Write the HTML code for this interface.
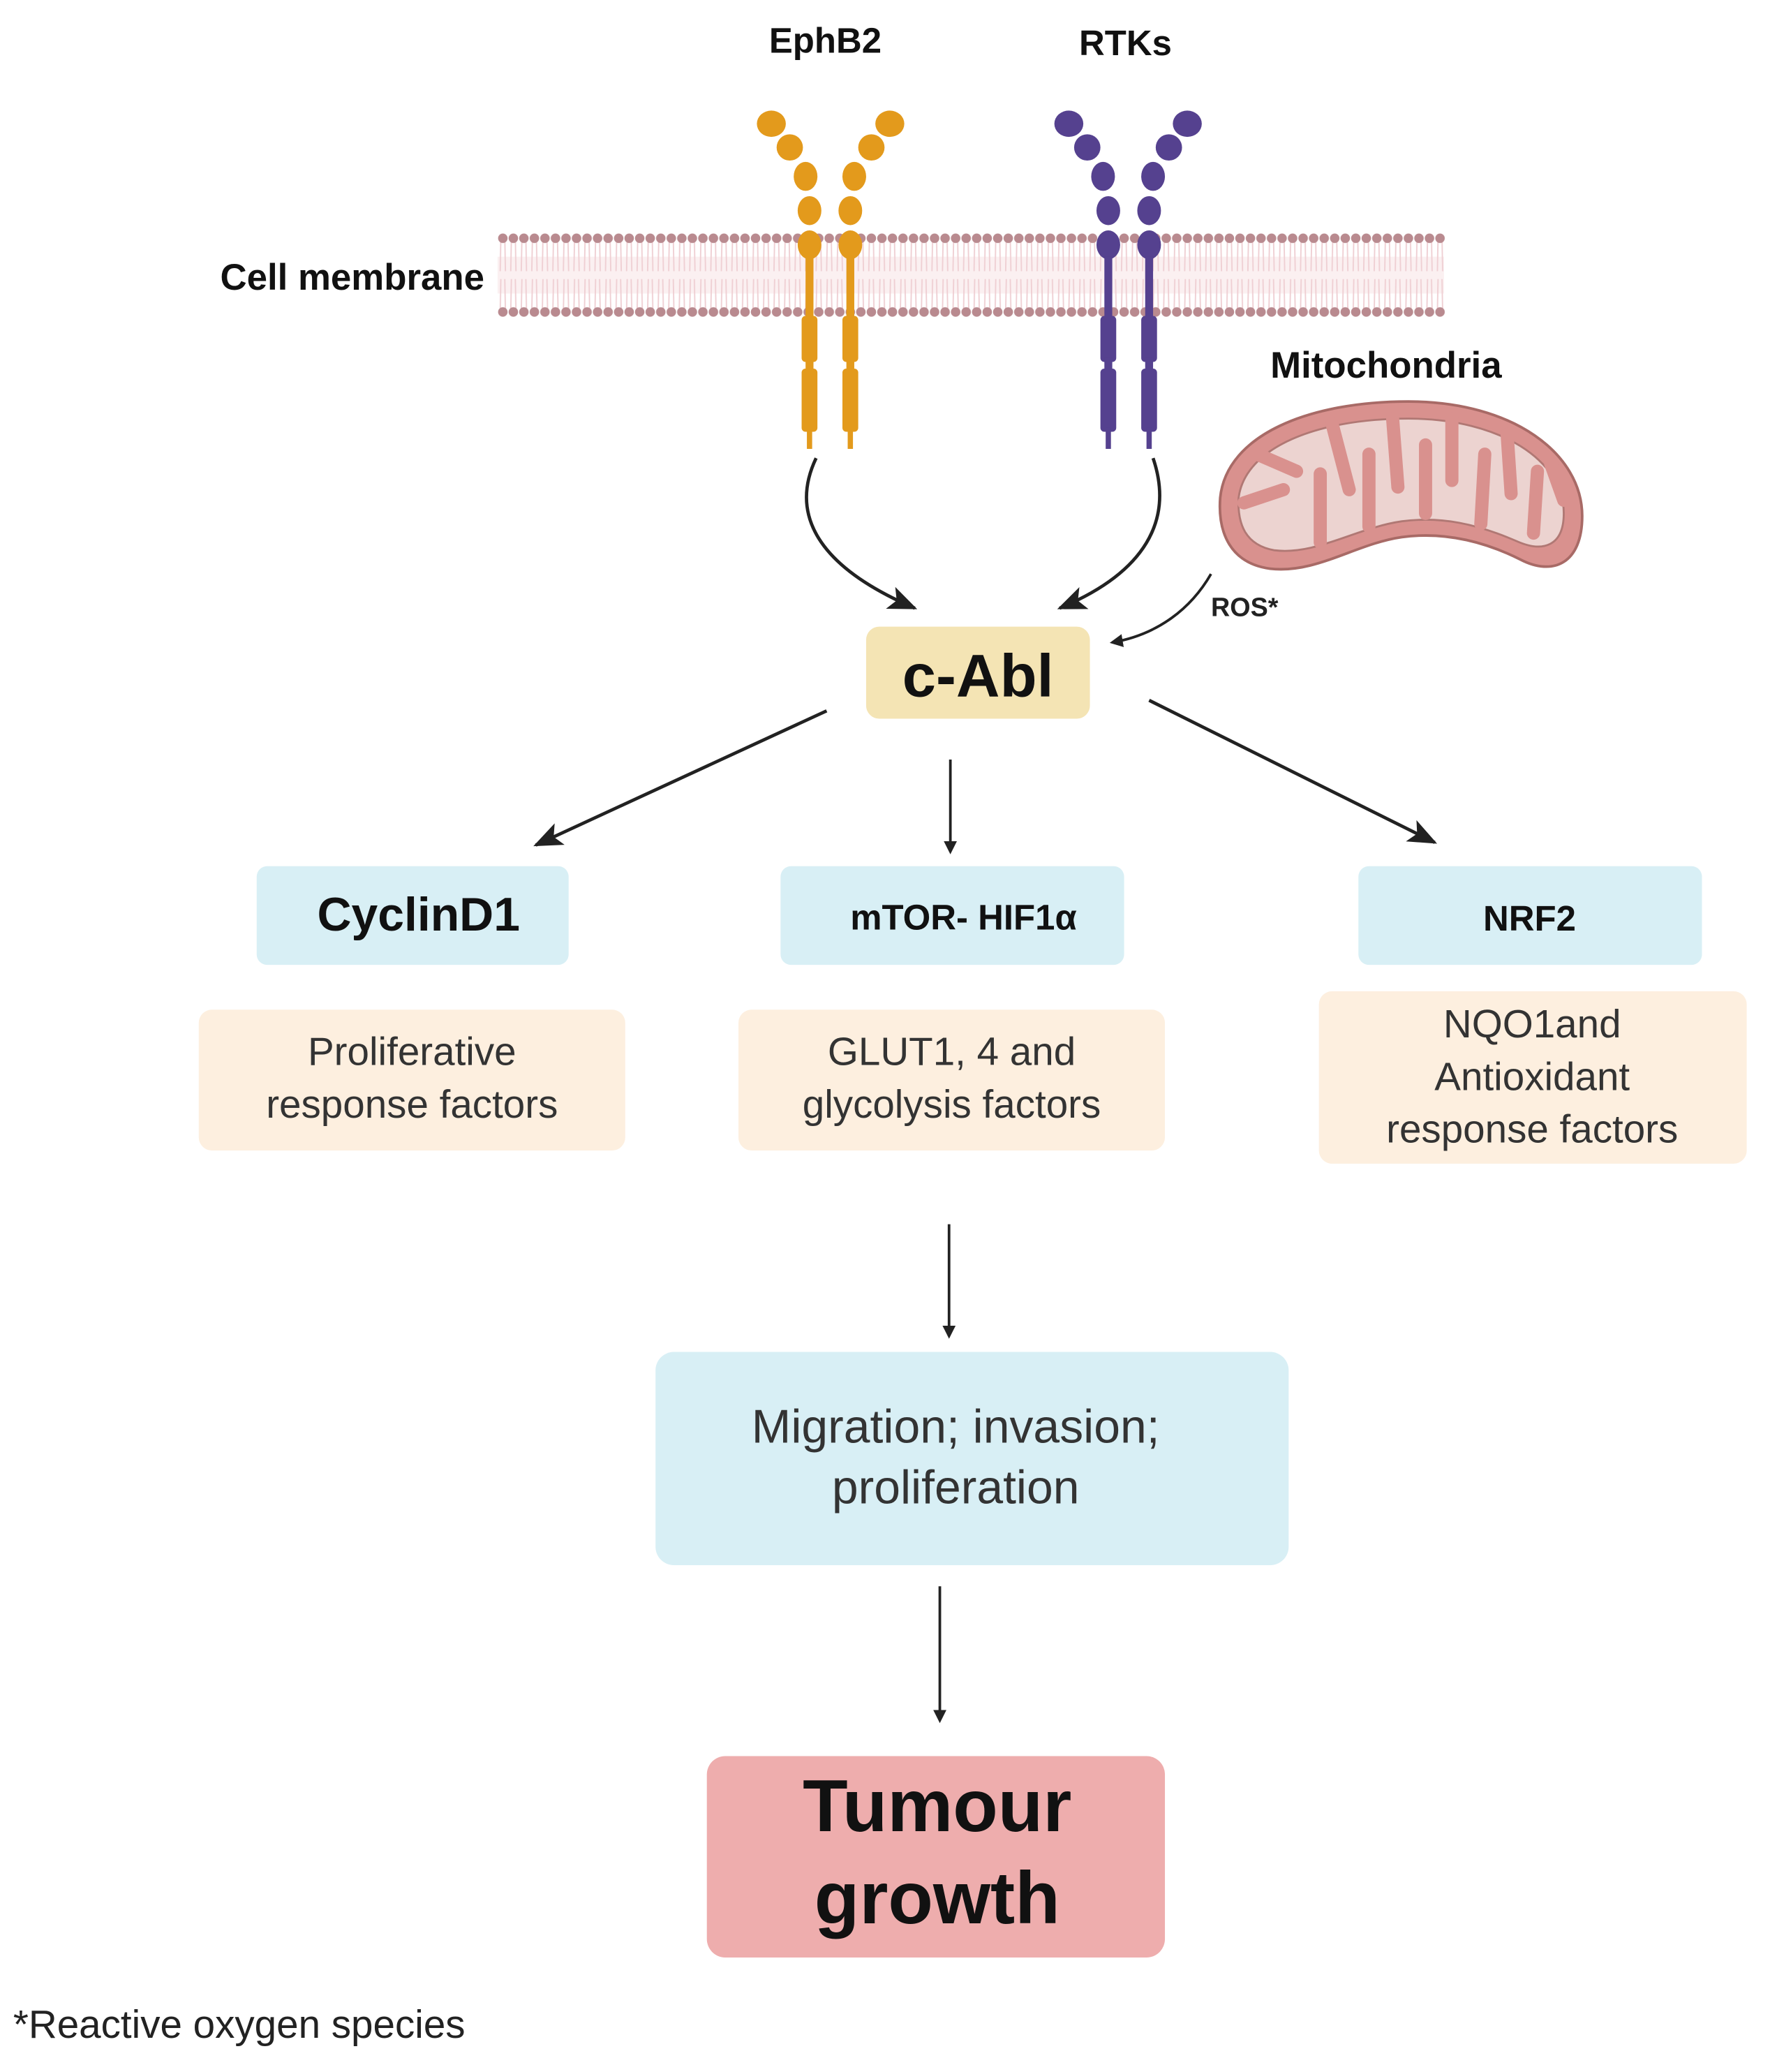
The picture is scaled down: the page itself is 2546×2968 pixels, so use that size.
<!DOCTYPE html>
<html><head><meta charset="utf-8"><style>
html,body{margin:0;padding:0;background:#fff;}
svg{display:block;}
text{font-family:"Liberation Sans",sans-serif;}
</style></head><body>
<svg width="2546" height="2968" viewBox="0 0 1350 1574" preserveAspectRatio="none" xmlns="http://www.w3.org/2000/svg">
<defs>
<marker id="ah" markerWidth="10" markerHeight="10" refX="8" refY="5" orient="auto" markerUnits="userSpaceOnUse" viewBox="0 0 10 10">
<path d="M0,0 L10,5 L0,10 z" fill="#222"/></marker>
<marker id="ahL" markerWidth="22" markerHeight="18" refX="20" refY="9" orient="auto" markerUnits="userSpaceOnUse" viewBox="0 0 22 18">
<path d="M0,0 L22,9 L0,18 L5,9 z" fill="#222"/></marker>
<pattern id="mem" x="378" y="176" width="8" height="66" patternUnits="userSpaceOnUse">
<path d="M2.5,5 L2,30 M5.5,5 L6,30 M2.5,36 L2,61 M5.5,36 L6,61" stroke="#efcfd3" stroke-width="1"/>
<circle cx="4" cy="5" r="3.6" fill="#b98a8f"/>
<circle cx="4" cy="61" r="3.6" fill="#b98a8f"/>
</pattern>
</defs>

<text x="627" y="40" font-size="27" font-weight="bold" text-anchor="middle" fill="#111">EphB2</text>
<text x="855" y="42" font-size="27" font-weight="bold" text-anchor="middle" fill="#111">RTKs</text>
<text x="368" y="220" font-size="28" font-weight="bold" text-anchor="end" fill="#111">Cell membrane</text>

<rect x="378" y="195" width="719" height="28" fill="#fbf0f1"/>
<rect x="378" y="176" width="720" height="66" fill="url(#mem)"/>

<g fill="#e39a1c">
<ellipse cx="586" cy="94" rx="11" ry="10"/><ellipse cx="600" cy="112" rx="10" ry="10"/>
<ellipse cx="612" cy="134" rx="9" ry="11"/><ellipse cx="615" cy="160" rx="9" ry="11"/><ellipse cx="615" cy="186" rx="9" ry="11"/>
<ellipse cx="676" cy="94" rx="11" ry="10"/><ellipse cx="662" cy="112" rx="10" ry="10"/>
<ellipse cx="649" cy="134" rx="9" ry="11"/><ellipse cx="646" cy="160" rx="9" ry="11"/><ellipse cx="646" cy="186" rx="9" ry="11"/>
<rect x="612" y="195" width="6" height="50"/><rect x="643" y="195" width="6" height="50"/>
<rect x="609" y="240" width="12" height="35" rx="3"/><rect x="640" y="240" width="12" height="35" rx="3"/>
<rect x="612" y="272" width="6" height="10"/><rect x="643" y="272" width="6" height="10"/>
<rect x="609" y="280" width="12" height="48" rx="3"/><rect x="640" y="280" width="12" height="48" rx="3"/>
<rect x="613" y="325" width="4" height="16"/><rect x="644" y="325" width="4" height="16"/>
</g>
<g fill="#55418f">
<ellipse cx="812" cy="94" rx="11" ry="10"/><ellipse cx="826" cy="112" rx="10" ry="10"/>
<ellipse cx="838" cy="134" rx="9" ry="11"/><ellipse cx="842" cy="160" rx="9" ry="11"/><ellipse cx="842" cy="186" rx="9" ry="11"/>
<ellipse cx="902" cy="94" rx="11" ry="10"/><ellipse cx="888" cy="112" rx="10" ry="10"/>
<ellipse cx="876" cy="134" rx="9" ry="11"/><ellipse cx="873" cy="160" rx="9" ry="11"/><ellipse cx="873" cy="186" rx="9" ry="11"/>
<rect x="839" y="195" width="6" height="50"/><rect x="870" y="195" width="6" height="50"/>
<rect x="836" y="240" width="12" height="35" rx="3"/><rect x="867" y="240" width="12" height="35" rx="3"/>
<rect x="839" y="272" width="6" height="10"/><rect x="870" y="272" width="6" height="10"/>
<rect x="836" y="280" width="12" height="48" rx="3"/><rect x="867" y="280" width="12" height="48" rx="3"/>
<rect x="840" y="325" width="4" height="16"/><rect x="871" y="325" width="4" height="16"/>
</g>

<path d="M620,348 C600,390 620,430 695,462" fill="none" stroke="#222" stroke-width="2.5" marker-end="url(#ahL)"/>
<path d="M876,348 C892,395 870,435 805,462" fill="none" stroke="#222" stroke-width="2.5" marker-end="url(#ahL)"/>

<text x="1053" y="287" font-size="28" font-weight="bold" text-anchor="middle" fill="#111">Mitochondria</text>
<path d="M1070,305 C1150,305 1202,345 1202,392 C1202,428 1180,438 1155,425 C1125,410 1095,404 1065,408 C1030,413 1000,436 965,432 C935,428 925,405 927,378 C932,330 995,305 1070,305 Z" fill="#d9918e" stroke="#a86a66" stroke-width="2"/>
<path d="M1070,318 C1140,318 1188,350 1188,390 C1188,415 1172,420 1152,411 C1122,398 1095,392 1065,396 C1030,401 1000,422 968,418 C946,414 940,398 941,378 C946,340 1000,318 1070,318 Z" fill="#ecd3d0" stroke="#b07874" stroke-width="1.5"/>
<g stroke="#d9918e" stroke-width="10" stroke-linecap="round" fill="none">
<path d="M945,382 L975,372"/><path d="M955,345 L985,358"/>
<path d="M1003,412 L1003,360"/><path d="M1012,322 L1025,372"/>
<path d="M1040,400 L1040,345"/><path d="M1058,318 L1062,370"/>
<path d="M1083,390 L1083,338"/><path d="M1103,318 L1103,365"/>
<path d="M1125,398 L1128,345"/><path d="M1145,330 L1148,375"/>
<path d="M1165,405 L1168,358"/><path d="M1178,352 L1188,380"/>
</g>
<path d="M920,436 C905,462 880,482 845,488" fill="none" stroke="#222" stroke-width="2" marker-end="url(#ah)"/>
<text x="920" y="468" font-size="20" font-weight="bold" fill="#222">ROS*</text>

<rect x="658" y="476" width="170" height="70" rx="10" fill="#f4e4b4"/>
<text x="743" y="529" font-size="46" font-weight="bold" text-anchor="middle" fill="#111">c-Abl</text>

<line x1="628" y1="540" x2="407" y2="642" stroke="#222" stroke-width="2.5" marker-end="url(#ahL)"/>
<line x1="722" y1="577" x2="722" y2="647" stroke="#222" stroke-width="2" marker-end="url(#ah)"/>
<line x1="873" y1="532" x2="1090" y2="640" stroke="#222" stroke-width="2.5" marker-end="url(#ahL)"/>

<rect x="195" y="658" width="237" height="75" rx="8" fill="#d8eff5"/>
<text x="318" y="707" font-size="36" font-weight="bold" text-anchor="middle" fill="#111">CyclinD1</text>
<rect x="593" y="658" width="261" height="75" rx="8" fill="#d8eff5"/>
<text x="732" y="706" font-size="27" font-weight="bold" text-anchor="middle" fill="#111">mTOR- HIF1α</text>
<rect x="1032" y="658" width="261" height="75" rx="8" fill="#d8eff5"/>
<text x="1162" y="707" font-size="27" font-weight="bold" text-anchor="middle" fill="#111">NRF2</text>

<rect x="151" y="767" width="324" height="107" rx="10" fill="#fdefdf"/>
<text font-size="30" text-anchor="middle" fill="#333"><tspan x="313" y="809">Proliferative</tspan><tspan x="313" y="849">response factors</tspan></text>
<rect x="561" y="767" width="324" height="107" rx="10" fill="#fdefdf"/>
<text font-size="30" text-anchor="middle" fill="#333"><tspan x="723" y="809">GLUT1, 4 and</tspan><tspan x="723" y="849">glycolysis factors</tspan></text>
<rect x="1002" y="753" width="325" height="131" rx="10" fill="#fdefdf"/>
<text font-size="30" text-anchor="middle" fill="#333"><tspan x="1164" y="788">NQO1and</tspan><tspan x="1164" y="828">Antioxidant</tspan><tspan x="1164" y="868">response factors</tspan></text>

<line x1="721" y1="930" x2="721" y2="1015" stroke="#222" stroke-width="2" marker-end="url(#ah)"/>

<rect x="498" y="1027" width="481" height="162" rx="14" fill="#d8eff5"/>
<text font-size="36" text-anchor="middle" fill="#333"><tspan x="726" y="1096">Migration; invasion;</tspan><tspan x="726" y="1142">proliferation</tspan></text>

<line x1="714" y1="1205" x2="714" y2="1307" stroke="#222" stroke-width="2" marker-end="url(#ah)"/>

<rect x="537" y="1334" width="348" height="153" rx="14" fill="#eeadad"/>
<text font-size="56" font-weight="bold" text-anchor="middle" fill="#111"><tspan x="712" y="1391">Tumour</tspan><tspan x="712" y="1461">growth</tspan></text>

<text x="10" y="1548" font-size="30" fill="#222">*Reactive oxygen species</text>
</svg>
</body></html>
